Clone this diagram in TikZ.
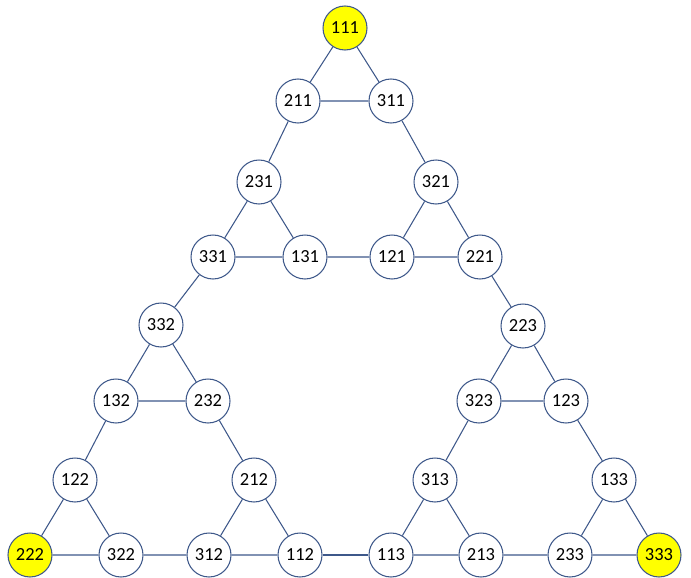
\documentclass[tikz,border=0pt]{standalone}
\usepackage{fontspec}
\setmainfont{Carlito}
\usepackage{xcolor}
\usepackage{tikz}
\definecolor{hnline}{RGB}{62,88,138}
\definecolor{hnyellow}{RGB}{255,255,0}
\tikzset{
  hnnode/.style={circle, draw=hnline, fill=white, line width=0.6pt, minimum size=0.88cm, inner sep=0pt, font=\fontsize{10.5}{12}\selectfont},
  hnend/.style={hnnode, fill=hnyellow},
  hnedge/.style={draw=hnline, line width=0.6pt},
}

\begin{document}
\begin{tikzpicture}[x=0.02cm, y=-0.02cm]
\useasboundingbox (0,0) rectangle (691,578);
% top triangle
\node[hnend]  (n111) at (345,28)  {111};
\node[hnnode] (n211) at (298,101) {211};
\node[hnnode] (n311) at (391,101) {311};
\node[hnnode] (n231) at (259,182) {231};
\node[hnnode] (n321) at (436,182) {321};
\node[hnnode] (n331) at (213,257) {331};
\node[hnnode] (n131) at (305,257) {131};
\node[hnnode] (n121) at (392,257) {121};
\node[hnnode] (n221) at (480,257) {221};
% left triangle
\node[hnnode] (n332) at (161,325) {332};
\node[hnnode] (n132) at (116,401) {132};
\node[hnnode] (n232) at (208,401) {232};
\node[hnnode] (n122) at (75,480)  {122};
\node[hnnode] (n212) at (254,480) {212};
\node[hnend]  (n222) at (30,555)  {222};
\node[hnnode] (n322) at (121,555) {322};
\node[hnnode] (n312) at (209,555) {312};
\node[hnnode] (n112) at (300,555) {112};
% right triangle
\node[hnnode] (n223) at (523,326) {223};
\node[hnnode] (n323) at (479,401) {323};
\node[hnnode] (n123) at (566,401) {123};
\node[hnnode] (n313) at (435,480) {313};
\node[hnnode] (n133) at (614,480) {133};
\node[hnnode] (n113) at (391,555) {113};
\node[hnnode] (n213) at (481,555) {213};
\node[hnnode] (n233) at (570,555) {233};
\node[hnend]  (n333) at (659,555) {333};
% small triangles
\draw[hnedge] (n111) -- (n211) (n111) -- (n311) (n211) -- (n311);
\draw[hnedge] (n231) -- (n331) (n231) -- (n131) (n331) -- (n131);
\draw[hnedge] (n321) -- (n121) (n321) -- (n221) (n121) -- (n221);
\draw[hnedge] (n332) -- (n132) (n332) -- (n232) (n132) -- (n232);
\draw[hnedge] (n122) -- (n222) (n122) -- (n322) (n222) -- (n322);
\draw[hnedge] (n212) -- (n312) (n212) -- (n112) (n312) -- (n112);
\draw[hnedge] (n223) -- (n323) (n223) -- (n123) (n323) -- (n123);
\draw[hnedge] (n313) -- (n113) (n313) -- (n213) (n113) -- (n213);
\draw[hnedge] (n133) -- (n233) (n133) -- (n333) (n233) -- (n333);
% links between them
\draw[hnedge] (n211) -- (n231) (n311) -- (n321) (n131) -- (n121);
\draw[hnedge] (n331) -- (n332) (n221) -- (n223);
\draw[hnedge] (n132) -- (n122) (n232) -- (n212) (n322) -- (n312);
\draw[hnedge] (n112) -- (n113);
\draw[hnedge] (n323) -- (n313) (n123) -- (n133) (n213) -- (n233);
\end{tikzpicture}
\end{document}
